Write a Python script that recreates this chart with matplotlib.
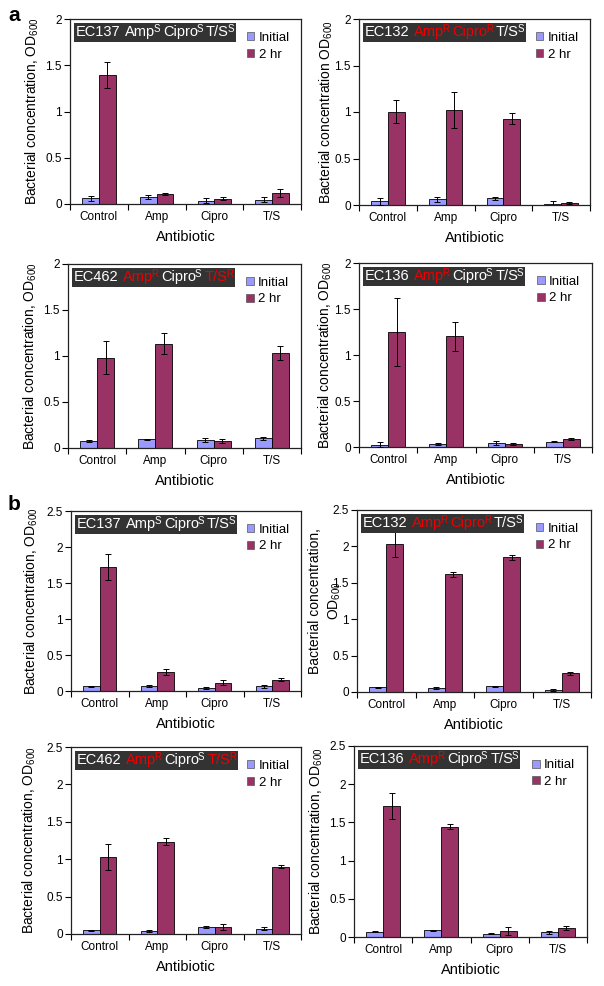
import matplotlib
matplotlib.use("Agg")
import matplotlib.pyplot as plt
import numpy as np
from matplotlib.patches import Rectangle, Patch
from matplotlib.transforms import offset_copy

plt.rcParams['font.family'] = ['Liberation Sans', 'DejaVu Sans']
plt.rcParams['mathtext.fontset'] = 'custom'
plt.rcParams['mathtext.rm'] = 'Liberation Sans'
plt.rcParams['mathtext.it'] = 'Liberation Sans:italic'
plt.rcParams['mathtext.default'] = 'regular'

W, H, DPI = 604, 986, 100

antibiotics = ["Control", "Amp", "Cipro", "T/S"]
series_names = ["Initial", "2 hr"]
drugs = ["Amp", "Cipro", "T/S"]

# panel a (top four)
a_strains = ["EC137", "EC132", "EC462", "EC136"]
a_resist = [["S", "S", "S"], ["R", "R", "S"], ["R", "S", "R"], ["R", "S", "S"]]
a_init = [[0.06, 0.072, 0.036, 0.047],
          [0.04, 0.06, 0.07, 0.015],
          [0.075, 0.094, 0.087, 0.105],
          [0.025, 0.036, 0.043, 0.058]]
a_init_err = [[0.03, 0.02, 0.025, 0.025],
              [0.035, 0.03, 0.015, 0.025],
              [0.01, 0.008, 0.02, 0.02],
              [0.025, 0.01, 0.025, 0.005]]
a_2hr = [[1.39, 0.11, 0.058, 0.12],
         [1.005, 1.02, 0.93, 0.025],
         [0.98, 1.135, 0.076, 1.03],
         [1.246, 1.203, 0.03, 0.087]]
a_2hr_err = [[0.14, 0.01, 0.02, 0.045],
             [0.12, 0.19, 0.06, 0.01],
             [0.18, 0.11, 0.02, 0.075],
             [0.37, 0.16, 0.012, 0.01]]

# panel b (bottom four)
b_strains = ["EC137", "EC132", "EC462", "EC136"]
b_resist = [["S", "S", "S"], ["R", "R", "S"], ["R", "S", "R"], ["R", "S", "S"]]
b_init = [[0.065, 0.07, 0.046, 0.065],
          [0.064, 0.05, 0.078, 0.028],
          [0.05, 0.04, 0.09, 0.067],
          [0.07, 0.09, 0.044, 0.06]]
b_init_err = [[0.005, 0.015, 0.012, 0.02],
              [0.005, 0.015, 0.008, 0.02],
              [0.005, 0.015, 0.015, 0.02],
              [0.005, 0.008, 0.005, 0.02]]
b_2hr = [[1.72, 0.264, 0.116, 0.158],
         [2.03, 1.615, 1.85, 0.257],
         [1.03, 1.232, 0.09, 0.897],
         [1.716, 1.446, 0.078, 0.113]]
b_2hr_err = [[0.18, 0.04, 0.035, 0.02],
             [0.17, 0.04, 0.035, 0.02],
             [0.17, 0.045, 0.04, 0.02],
             [0.175, 0.035, 0.05, 0.025]]

a_ticks = ["0", "0.5", "1", "1.5", "2"]
b_ticks = ["0", "0.5", "1", "1.5", "2", "2.5"]

YLAB = "Bacterial concentration, OD$_{600}$"
a_ylabels = [YLAB, "Bacterial concentration OD$_{600}$", YLAB, YLAB]
b_ylabels = [YLAB, "Bacterial concentration,\nOD$_{600}$", YLAB, YLAB]

# axes boxes in pixels: left, right, top, bottom
a_boxes = [(70, 301, 19, 204), (359, 590, 19, 205), (68, 301, 264, 448), (359, 592, 263, 447)]
b_boxes = [(71, 301, 511, 691), (357, 591, 510, 692), (71, 301, 747, 934), (354, 587, 746, 937)]
a_ylab_off = [-29, -24, -29, -25]
b_ylab_off = [-31, -14, -33, -29]

C_INIT = "#9999ff"
C_2HR = "#993366"
RED = "#ee0000"
BOXC = "#333333"


def title_box(ax, strain, resist):
    fig = ax.figure
    r = fig.canvas.get_renderer()
    fs, sup_fs = 10.5, 7
    space = 0.278 * fs * DPI / 72
    x = 6.0

    def put(s, color, sup):
        t = ax.text(0, 1, s, color=color, fontsize=sup_fs if sup else fs, ha="left", va="baseline",
                    transform=offset_copy(ax.transAxes, fig=fig, x=x, y=-17 + (4 if sup else 0), units="dots"),
                    zorder=7, clip_on=False)
        return t.get_window_extent(r).width

    x += put(strain, "white", False) + space
    for d, res in zip(drugs, resist):
        c = RED if res == "R" else "white"
        x += put(d, c, False) - 1.5
        x += put(res, c, True) + space - 1
    x -= space
    aw, ah = ax.bbox.width, ax.bbox.height
    ax.add_patch(Rectangle((4 / aw, 1 - 23 / ah), (x + 3 - 4) / aw, 19 / ah, transform=ax.transAxes,
                           facecolor=BOXC, edgecolor="none", zorder=6, clip_on=False))


def panel(fig, box, strain, resist, init, init_err, hr, hr_err, ticks, ylabel, ylab_off):
    l, rr, t, b = box
    ax = fig.add_axes([l / W, 1 - b / H, (rr - l) / W, (b - t) / H])
    x = np.arange(len(antibiotics))
    w = 0.29
    ax.bar(x - w / 2, init, w, color=C_INIT, edgecolor="black", linewidth=0.6, label=series_names[0], zorder=2)
    ax.bar(x + w / 2, hr, w, color=C_2HR, edgecolor="black", linewidth=0.6, label=series_names[1], zorder=2)
    ax.errorbar(x - w / 2, init, yerr=init_err, fmt="none", ecolor="black", elinewidth=0.7, capsize=2.5,
                capthick=0.7, zorder=3)
    ax.errorbar(x + w / 2, hr, yerr=hr_err, fmt="none", ecolor="black", elinewidth=0.7, capsize=2.5,
                capthick=0.7, zorder=3)
    ax.set_xlim(-0.5, len(antibiotics) - 0.5)
    ax.set_xticks(x)
    ax.set_xticklabels(antibiotics, fontsize=8.5)
    ax.set_xticks(np.arange(len(antibiotics) + 1) - 0.5, minor=True)
    ax.tick_params(axis="x", which="major", length=0, pad=5)
    ax.tick_params(axis="x", which="minor", length=4, direction="out", width=0.8)
    yt = [float(v) for v in ticks]
    ax.set_ylim(0, yt[-1])
    ax.set_yticks(yt)
    ax.set_yticklabels(ticks, fontsize=8.5)
    ax.tick_params(axis="y", length=4, direction="out", width=0.8, pad=2)
    for s in ax.spines.values():
        s.set_linewidth(0.9)
        s.set_color("#222222")
    ax.set_xlabel("Antibiotic", fontsize=10.5, labelpad=5)
    ax.set_ylabel(ylabel, fontsize=10, linespacing=1.35)
    ax.yaxis.set_label_coords(ylab_off / (rr - l), 0.5)
    hs = [Patch(facecolor=C_INIT, edgecolor="#555555", linewidth=0.5),
          Patch(facecolor=C_2HR, edgecolor="#555555", linewidth=0.5)]
    ax.legend(hs, series_names, loc="upper left", bbox_to_anchor=(0.765, 0.93), frameon=False, fontsize=9.5,
              handlelength=0.55, handleheight=0.55, handletextpad=0.35, labelspacing=0.35, borderpad=0,
              borderaxespad=0)
    title_box(ax, strain, resist)
    return ax


fig = plt.figure(figsize=(W / DPI, H / DPI), dpi=DPI)
for i in range(4):
    panel(fig, a_boxes[i], a_strains[i], a_resist[i], a_init[i], a_init_err[i], a_2hr[i], a_2hr_err[i],
          a_ticks, a_ylabels[i], a_ylab_off[i])
for i in range(4):
    panel(fig, b_boxes[i], b_strains[i], b_resist[i], b_init[i], b_init_err[i], b_2hr[i], b_2hr_err[i],
          b_ticks, b_ylabels[i], b_ylab_off[i])

fig.text(8 / W, 1 - 21 / H, "a", fontsize=15, fontweight="bold", ha="left", va="baseline")
fig.text(8 / W, 1 - 510 / H, "b", fontsize=15, fontweight="bold", ha="left", va="baseline")

fig.savefig("out.png", dpi=DPI)
